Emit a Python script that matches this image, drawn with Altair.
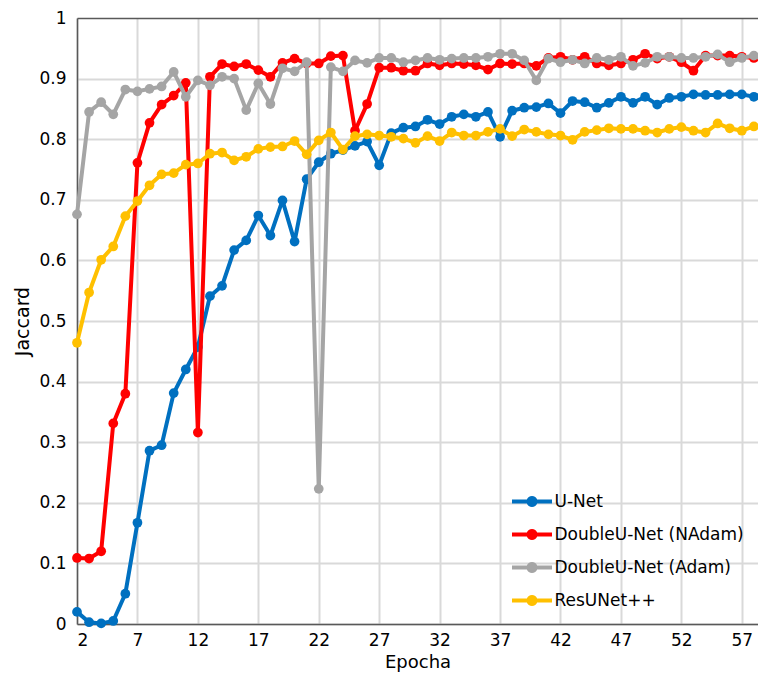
import math
import altair as alt
import pandas as pd

epochs = list(range(2, 60))

unet = [0.020, 0.003, 0.001, 0.005, 0.050, 0.167, 0.286, 0.295, 0.381, 0.420,
        0.457, 0.541, 0.558, 0.617, 0.633, 0.674, 0.641, 0.699, 0.631, 0.734,
        0.762, 0.776, 0.782, 0.789, 0.796, 0.757, 0.810, 0.819, 0.821, 0.832,
        0.825, 0.837, 0.841, 0.837, 0.845, 0.804, 0.847, 0.852, 0.853, 0.859,
        0.843, 0.863, 0.861, 0.852, 0.860, 0.870, 0.860, 0.870, 0.857, 0.868,
        0.870, 0.874, 0.873, 0.873, 0.874, 0.874, 0.870, 0.877]

nadam = [0.109, 0.108, 0.120, 0.331, 0.380, 0.761, 0.827, 0.857, 0.872, 0.893,
         0.316, 0.903, 0.924, 0.920, 0.924, 0.914, 0.903, 0.926, 0.933, 0.925,
         0.925, 0.937, 0.938, 0.814, 0.858, 0.918, 0.918, 0.913, 0.913, 0.925,
         0.922, 0.925, 0.924, 0.922, 0.915, 0.925, 0.924, 0.925, 0.921, 0.934,
         0.936, 0.931, 0.936, 0.925, 0.922, 0.925, 0.931, 0.941, 0.933, 0.936,
         0.927, 0.913, 0.938, 0.938, 0.938, 0.936, 0.934, 0.938]

adam = [0.676, 0.845, 0.861, 0.841, 0.882, 0.879, 0.883, 0.887, 0.911, 0.870,
        0.897, 0.889, 0.903, 0.900, 0.848, 0.892, 0.858, 0.917, 0.912, 0.927,
        0.223, 0.919, 0.912, 0.930, 0.926, 0.934, 0.934, 0.927, 0.930, 0.934,
        0.931, 0.933, 0.934, 0.934, 0.936, 0.941, 0.941, 0.930, 0.897, 0.933,
        0.927, 0.931, 0.925, 0.934, 0.931, 0.936, 0.921, 0.926, 0.936, 0.936,
        0.934, 0.934, 0.936, 0.940, 0.927, 0.934, 0.938, 0.930]

resunet = [0.464, 0.547, 0.601, 0.623, 0.673, 0.698, 0.724, 0.742, 0.744, 0.758,
           0.760, 0.776, 0.778, 0.765, 0.771, 0.784, 0.787, 0.788, 0.797, 0.775,
           0.798, 0.811, 0.783, 0.805, 0.808, 0.806, 0.804, 0.801, 0.794, 0.805,
           0.797, 0.811, 0.806, 0.806, 0.812, 0.817, 0.805, 0.816, 0.812, 0.808,
           0.806, 0.799, 0.812, 0.815, 0.818, 0.817, 0.817, 0.814, 0.811, 0.817,
           0.820, 0.814, 0.811, 0.826, 0.818, 0.814, 0.821, 0.822]

series_names = ["U-Net", "DoubleU-Net (NAdam)", "DoubleU-Net (Adam)", "ResUNet++"]
series_colors = ["#0070C0", "#FF0000", "#A5A5A5", "#FFC000"]
x_ticks = [2, 7, 12, 17, 22, 27, 32, 37, 42, 47, 52, 57]
y_ticks = [round(i * 0.1, 1) for i in range(11)]

rows = []
for name, vals in zip(series_names, [unet, nadam, adam, resunet]):
    for e, v in zip(epochs, vals):
        rows.append({"Epocha": e, "Jaccard": v, "Modelo": name})
df = pd.DataFrame(rows)

FONT = "DejaVu Sans"
AXIS_DARK = "#595959"
GRID = "#d9d9d9"


# legend symbol: a line with a dot (dot drawn as concentric stroked rings)
def ring(r, n=20):
    pts = [(r * math.cos(2 * math.pi * k / n), r * math.sin(2 * math.pi * k / n)) for k in range(n)]
    return "M" + "L".join(f"{px:.3f},{py:.3f}" for px, py in pts) + "Z"


legend_path = "M-4,0L4,0" + ring(0.7) + ring(0.25)

x_enc = alt.X(
    "Epocha:Q",
    scale=alt.Scale(domain=[2, 58.34], nice=False, zero=False),
    axis=alt.Axis(
        values=x_ticks, title="Epocha", ticks=False, labelPadding=8,
        titlePadding=5, labelFontSize=17, titleFontSize=18,
        titleFontWeight="normal", labelFont=FONT, titleFont=FONT,
        labelColor="#000000", titleColor="#000000",
        domainColor=AXIS_DARK, domainWidth=1.5,
        gridColor=GRID, gridWidth=2,
    ),
)
y_enc = alt.Y(
    "Jaccard:Q",
    scale=alt.Scale(domain=[0, 1], nice=False),
    axis=alt.Axis(
        values=y_ticks, format=".1~f", title="Jaccard", ticks=False,
        labelPadding=11, titlePadding=6, labelFontSize=17, titleFontSize=19,
        titleFontWeight="normal", labelFont=FONT, titleFont=FONT,
        labelColor="#000000", titleColor="#000000",
        domainColor=AXIS_DARK, domainWidth=1.5,
        gridColor={"condition": {"test": "datum.value >= 1", "value": AXIS_DARK}, "value": GRID},
        gridWidth={"condition": {"test": "datum.value >= 1", "value": 1.5}, "value": 2},
    ),
)
color_enc = alt.Color(
    "Modelo:N",
    scale=alt.Scale(domain=series_names, range=series_colors),
    legend=alt.Legend(
        title=None, orient="none", legendX=446.5, legendY=475,
        symbolType=legend_path, symbolSize=100, symbolStrokeWidth=4,
        labelFontSize=17, labelFont=FONT, labelColor="#000000",
        labelOffset=14, rowPadding=10, padding=0, labelLimit=400,
    ),
)

layers = []
for name, c in zip(series_names, series_colors):
    base = alt.Chart(df).transform_filter(alt.datum.Modelo == name)
    layers.append(
        base.mark_line(strokeWidth=4, strokeJoin="round", strokeCap="round").encode(
            x=x_enc, y=y_enc, color=color_enc, order="Epocha:Q"
        )
    )
    layers.append(
        base.mark_circle(size=95, opacity=1, color=c).encode(x=x_enc, y=y_enc)
    )

chart = (
    alt.layer(*layers)
    .properties(
        width=681, height=606,
        padding={"left": 69, "top": 10, "right": 0, "bottom": 50},
        autosize=alt.AutoSizeParams(type="none"),
        background="white",
    )
    .configure(font=FONT)
    .configure_view(stroke=None)
)

chart.save("out.html", embed_options={"renderer": "svg", "actions": False})
